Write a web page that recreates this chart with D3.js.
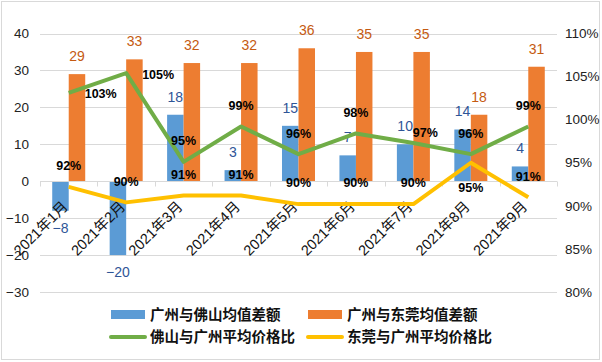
<!DOCTYPE html>
<html>
<head>
  <meta charset="utf-8">
  <title>广州与佛山、东莞均值差额及价格比</title>
  <style>
    body { margin: 0; padding: 0; background: #fff; }
    svg { display: block; }
    text { font-family: "Liberation Sans", Arial, "Noto Sans CJK SC", sans-serif; }
  </style>
</head>
<body>
  <div id="chart"></div>

  <script src="https://d3js.org/d3.v7.min.js"></script>
  <script>
    // chart data
    const months = ['2021年1月', '2021年2月', '2021年3月', '2021年4月', '2021年5月',
                    '2021年6月', '2021年7月', '2021年8月', '2021年9月'];
    const gzFoshanDiff = [-8, -20, 18, 3, 15, 7, 10, 14, 4];
    const gzDongguanDiff = [29, 33, 32, 32, 36, 35, 35, 18, 31];
    const foshanRatio = [1.031, 1.054, 0.951, 0.992, 0.960, 0.984, 0.973, 0.960, 0.992];
    const dongguanRatio = [0.922, 0.904, 0.912, 0.912, 0.902, 0.902, 0.902, 0.950, 0.910];
    const leftTicks = [-30, -20, -10, 0, 10, 20, 30, 40];
    const rightTicks = [0.80, 0.85, 0.90, 0.95, 1.00, 1.05, 1.10];
    const barNames = ['广州与佛山均值差额', '广州与东莞均值差额'];
    const lineNames = ['佛山与广州平均价格比', '东莞与广州平均价格比'];
    // where each percentage label sits relative to its point
    const foshanLabelPos = ['r', 'r', 't', 't', 't', 't', 'tr', 't', 't'];
    const dongguanLabelPos = ['t', 't', 't', 't', 't', 't', 't', 'b', 't'];

    const W = 602, H = 362;
    const colors = { blue: '#5B9BD5', orange: '#ED7D31', green: '#70AD47', yellow: '#FFC000' };

    const svg = d3.select('#chart').append('svg')
      .attr('width', W)
      .attr('height', H);

    // outer frame
    svg.append('rect')
      .attr('x', 1.5).attr('y', 1.5)
      .attr('width', W - 4).attr('height', H - 4)
      .attr('fill', '#fff')
      .attr('stroke', '#d9d9d9');

    const x = d3.scaleBand().domain(months).range([40, 557]);
    const y = d3.scaleLinear().domain([-30, 40]).range([292, 33.5]);
    const y2 = d3.scaleLinear().domain([0.8, 1.1]).range([292, 33.5]);
    const sub = d3.scaleBand().domain([0, 1]).range([0, 33]);

    // gridlines
    svg.append('g')
      .selectAll('line')
      .data(leftTicks)
      .join('line')
      .attr('x1', 40).attr('x2', 557)
      .attr('y1', d => Math.round(y(d)) + 0.5)
      .attr('y2', d => Math.round(y(d)) + 0.5)
      .attr('stroke', '#d9d9d9');

    // left axis labels
    const fmtNum = d3.format('d');
    svg.append('g')
      .selectAll('text')
      .data(leftTicks)
      .join('text')
      .attr('x', 29)
      .attr('y', d => y(d))
      .attr('dy', '0.35em')
      .attr('text-anchor', 'end')
      .attr('font-size', 13.5)
      .attr('fill', '#222')
      .text(d => fmtNum(d));

    // right axis labels
    const fmtPct = d3.format('.0%');
    svg.append('g')
      .selectAll('text')
      .data(rightTicks)
      .join('text')
      .attr('x', 565)
      .attr('y', d => y2(d))
      .attr('dy', '0.35em')
      .attr('font-size', 13.5)
      .attr('fill', '#222')
      .text(d => fmtPct(d));

    // bars
    const barSeries = [gzFoshanDiff, gzDongguanDiff];
    const barColors = [colors.blue, colors.orange];
    const barLabelColors = ['#2F5597', '#C55A11'];
    barSeries.forEach((vals, s) => {
      const g = svg.append('g');
      g.selectAll('rect')
        .data(vals)
        .join('rect')
        .attr('x', (d, i) => x(months[i]) + x.bandwidth() / 2 - 16.5 + sub(s))
        .attr('width', sub.bandwidth())
        .attr('y', d => y(Math.max(0, d)))
        .attr('height', d => Math.abs(y(d) - y(0)))
        .attr('fill', barColors[s]);
      g.selectAll('text')
        .data(vals)
        .join('text')
        .attr('x', (d, i) => x(months[i]) + x.bandwidth() / 2 - 16.5 + sub(s) + sub.bandwidth() / 2)
        .attr('y', d => d >= 0 ? y(d) - 18 : y(d) + 17)
        .attr('dy', '0.35em')
        .attr('text-anchor', 'middle')
        .attr('font-size', 14)
        .attr('fill', barLabelColors[s])
        .text(d => fmtNum(d));
    });

    // category axis line and ticks
    const axisY = Math.round(y(0)) + 0.5;
    svg.append('line')
      .attr('x1', 40).attr('x2', 557)
      .attr('y1', axisY).attr('y2', axisY)
      .attr('stroke', '#d9d9d9');
    svg.append('g')
      .selectAll('line')
      .data(months.concat(['end']))
      .join('line')
      .attr('x1', (d, i) => Math.round(40 + i * x.step()) + 0.5)
      .attr('x2', (d, i) => Math.round(40 + i * x.step()) + 0.5)
      .attr('y1', axisY).attr('y2', axisY + 5)
      .attr('stroke', '#d9d9d9');

    // category labels, rotated
    svg.append('g')
      .selectAll('text')
      .data(months)
      .join('text')
      .attr('transform', d => `translate(${x(d) + x.bandwidth() / 2},${axisY + 26}) rotate(-45)`)
      .attr('text-anchor', 'end')
      .attr('font-size', 14.5)
      .attr('fill', '#111')
      .text(d => d);

    // lines
    const lineSeries = [foshanRatio, dongguanRatio];
    const lineColors = [colors.green, colors.yellow];
    const cx = i => x(months[i]) + x.bandwidth() / 2;
    const line = d3.line()
      .x((d, i) => cx(i))
      .y(d => y2(d));
    lineSeries.forEach((vals, s) => {
      svg.append('path')
        .datum(vals)
        .attr('d', line)
        .attr('fill', 'none')
        .attr('stroke', lineColors[s])
        .attr('stroke-width', 4)
        .attr('stroke-linejoin', 'round');
    });

    // percentage labels
    const placements = [foshanLabelPos, dongguanLabelPos];
    lineSeries.forEach((vals, s) => {
      svg.append('g')
        .selectAll('text')
        .data(vals)
        .join('text')
        .attr('x', (d, i) => {
          const p = placements[s][i];
          if (p === 'r') return cx(i) + 16;
          if (p === 'tr') return cx(i) + 12;
          return cx(i);
        })
        .attr('y', (d, i) => {
          const p = placements[s][i];
          if (p === 'r') return y2(d) + 1;
          if (p === 'tr') return y2(d) - 10;
          if (p === 'b') return y2(d) + 25;
          return y2(d) - 21;
        })
        .attr('dy', '0.35em')
        .attr('text-anchor', (d, i) => placements[s][i] === 'r' ? 'start' : 'middle')
        .attr('font-size', 12.5)
        .attr('font-weight', 'bold')
        .attr('fill', '#000')
        .text(d => fmtPct(d));
    });

    // legend
    const legend = svg.append('g')
      .attr('font-family', '"Noto Sans CJK SC", sans-serif')
      .attr('font-size', 14.5)
      .attr('font-weight', 'bold');
    const legendX = [111, 308];
    barNames.forEach((name, i) => {
      legend.append('rect')
        .attr('x', legendX[i]).attr('y', 310)
        .attr('width', 34).attr('height', 9)
        .attr('fill', barColors[i]);
      legend.append('text')
        .attr('x', legendX[i] + 39).attr('y', 315)
        .attr('dy', '0.35em')
        .attr('fill', '#111')
        .text(name);
    });
    lineNames.forEach((name, i) => {
      legend.append('line')
        .attr('x1', legendX[i]).attr('x2', legendX[i] + 34)
        .attr('y1', 337).attr('y2', 337)
        .attr('stroke', lineColors[i])
        .attr('stroke-width', 4)
        .attr('stroke-linecap', 'round');
      legend.append('text')
        .attr('x', legendX[i] + 39).attr('y', 337)
        .attr('dy', '0.35em')
        .attr('fill', '#111')
        .text(name);
    });
  </script>
</body>
</html>
